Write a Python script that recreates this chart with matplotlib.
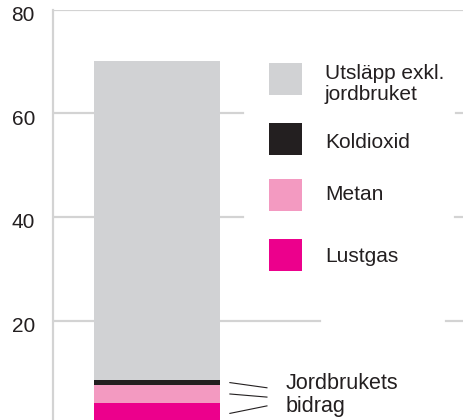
import matplotlib
matplotlib.use("Agg")
import matplotlib.pyplot as plt
import matplotlib.transforms as mtransforms
from matplotlib.patches import Rectangle

# Stapel: jordbrukets bidrag nederst, övriga utsläpp överst
kategorier = ["Lustgas", "Metan", "Koldioxid", "Utsläpp exkl.\njordbruket"]
varden = [4.1, 3.4, 1.0, 61.7]
farger = ["#ec008c", "#f39ac1", "#231f20", "#d1d2d4"]

y_ticks = [0, 20, 40, 60, 80]
TEXT = "#231f20"
GRID = "#d3d3d3"
FS = 15

plt.rcParams["font.family"] = ["Liberation Sans", "DejaVu Sans"]

fig = plt.figure(figsize=(4.64, 4.2), dpi=100)
# axeln går en bit under bildens nederkant
ax = fig.add_axes([53 / 464, -4 / 420, 411 / 464, 414 / 420])
ax.set_xlim(-0.825, 2.437)
ax.set_ylim(0, 80)

# Stödlinjer, avbrutna där förklaringen står
ax.axhline(80, 0, 1, color=GRID, lw=1.6, zorder=0)
ax.axhline(60, 0, 0.462, color=GRID, lw=1.6, zorder=0)
ax.axhline(60, 0.981, 1, color=GRID, lw=1.6, zorder=0)
ax.axhline(40, 0, 0.462, color=GRID, lw=1.6, zorder=0)
ax.axhline(40, 0.978, 1, color=GRID, lw=1.6, zorder=0)
ax.axhline(20, 0, 0.650, color=GRID, lw=1.6, zorder=0)
ax.axhline(20, 0.956, 1, color=GRID, lw=1.6, zorder=0)

# Staplad stapel
botten = 0
mitter = []
for v, c in zip(varden, farger):
    ax.bar(0, v, width=1.0, bottom=botten, color=c, edgecolor="none", zorder=2)
    mitter.append(botten + v / 2)
    botten += v

for s in ["top", "right", "bottom"]:
    ax.spines[s].set_visible(False)
ax.spines["left"].set_color(GRID)
ax.spines["left"].set_linewidth(1.6)

ax.set_xticks([])
ax.set_yticks(y_ticks)
ax.set_yticklabels([str(t) for t in y_ticks])
ax.tick_params(axis="y", length=0, pad=13, labelsize=FS, labelcolor=TEXT)
forskj = mtransforms.ScaledTranslation(0, -4 / 100, fig.dpi_scale_trans)
for lbl in ax.get_yticklabels():
    lbl.set_transform(lbl.get_transform() + forskj)

# Förklaring, ritad för hand i figurkoordinater (överst = sista kategorin)
ruta_y = [79, 139, 195, 255]
text_y = [84, 142, 195, 257]
for i, idx in enumerate(reversed(range(len(kategorier)))):
    yc = ruta_y[i]
    fig.patches.append(Rectangle((269 / 464, 1 - (yc + 16) / 420), 33 / 464, 32 / 420,
                                 transform=fig.transFigure, facecolor=farger[idx],
                                 edgecolor="none", zorder=3))
    fig.text(325 / 464, 1 - text_y[i] / 420, kategorier[idx], fontsize=FS,
             color=TEXT, ha="left", va="center", linespacing=1.1)

# Hänvisningslinjer till jordbrukets delar
slut_y = [3.5, 5.2, 7.0]
for yv, ye in zip(mitter[:3], slut_y):
    ax.plot([0.579, 0.873], [yv, ye], color=TEXT, lw=0.8, zorder=3, clip_on=False)
ax.text(1.02, 5.6, "Jordbrukets\nbidrag", fontsize=15.5, color=TEXT,
        ha="left", va="center", linespacing=1.15)

fig.savefig("out.png", dpi=100)
